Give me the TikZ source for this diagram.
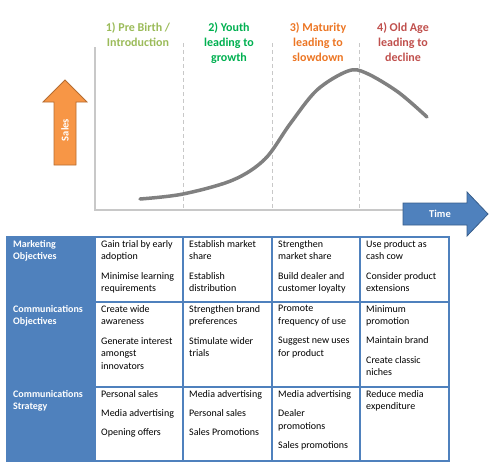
\documentclass[tikz,border=0pt]{standalone}
\usepackage{fontspec}
\setmainfont{Carlito}
\usepackage{xcolor}
\definecolor{tblue}{RGB}{79,129,189}
\definecolor{tbluedark}{RGB}{56,93,138}
\definecolor{salesorange}{RGB}{247,150,70}
\definecolor{salesedge}{RGB}{182,109,49}
\definecolor{axisgray}{RGB}{200,200,200}
\definecolor{curvegray}{RGB}{128,128,128}
\definecolor{stageone}{RGB}{155,187,89}
\definecolor{stagetwo}{RGB}{0,176,80}
\definecolor{stagethree}{RGB}{236,118,36}
\definecolor{stagefour}{RGB}{192,80,77}
\tikzset{
  stagelabel/.style={anchor=north, align=center, inner sep=0pt,
                     font=\fontsize{12}{15}\selectfont\bfseries},
  cell/.style={anchor=north west, align=left, inner sep=0pt,
               font=\fontsize{10}{12.7}\selectfont},
  rowhead/.style={cell, text=white, font=\fontsize{10}{12}\selectfont\bfseries},
  arrowtext/.style={inner sep=0pt, text=white, font=\fontsize{10.5}{12}\selectfont\bfseries},
  axis/.style={line width=1.5pt, axisgray},
  divider/.style={line width=0.9pt, axisgray, dash pattern=on 4pt off 3pt},
  curve/.style={line width=3.5pt, curvegray, line cap=round},
  grid/.style={line width=2.5pt, tblue},
}
\begin{document}
\begin{tikzpicture}[x=1pt, y=-1pt]
\useasboundingbox (0,0) rectangle (503,472);

% stage titles
\node[stagelabel, text=stageone]   (birth)    at (138,22) {1) Pre Birth /\\Introduction};
\node[stagelabel, text=stagetwo]   (youth)    at (229,22) {2) Youth\\leading to\\growth};
\node[stagelabel, text=stagethree] (maturity) at (318,22) {3) Maturity\\leading to\\slowdown};
\node[stagelabel, text=stagefour]  (oldage)   at (403,22) {4) Old Age\\leading to\\decline};

% axes and stage dividers
\coordinate (origin) at (95,210);
\coordinate (ytop) at (95,47);
\coordinate (xend) at (404,210);
\draw[axis] (ytop) -- (origin) -- (xend);
\foreach \x in {183,272,359}
  \draw[divider] (\x,43) -- (\x,210);

% sales curve
\draw[curve] plot[smooth, tension=0.55] coordinates
  {(140,199) (183,194) (233,180) (265,159) (290,124) (317,90) (348,71) (366,73) (398,92) (427,117)};

% sales arrow
\filldraw[fill=salesorange, draw=salesedge, line width=0.8pt]
  (54,165) -- (54,102) -- (43,102) -- (65,80) -- (87,102) -- (76,102) -- (76,165) -- cycle;
\node[arrowtext, rotate=90] (sales) at (65,130) {Sales};

% time arrow
\filldraw[fill=tblue, draw=tbluedark, line width=0.8pt]
  (403,203) -- (467,203) -- (467,192) -- (488,214) -- (467,236) -- (467,225) -- (403,225) -- cycle;
\node[arrowtext] (time) at (440,214) {Time};

% table
\fill[white] (95,237) rectangle (449,461);
\fill[tblue] (6,236) rectangle (95,462);
\foreach \x in {183,272,360}
  \draw[grid] (\x,237) -- (\x,461);
\foreach \y in {302,387}
  \draw[grid] (95,\y) -- (449,\y);
\draw[grid] (95,237) rectangle (449,461);

% row 1
\node[rowhead] (mkthead) at (13,240) {Marketing\\Objectives};
\node[cell] (mkt1) at (101,240) {Gain trial by early\\adoption\\[6.5pt]Minimise learning\\requirements};
\node[cell] (mkt2) at (189,240) {Establish market\\share\\[6.5pt]Establish\\distribution};
\node[cell] (mkt3) at (278,240) {Strengthen\\market share\\[6.5pt]Build dealer and\\customer loyalty};
\node[cell] (mkt4) at (366,240) {Use product as\\cash cow\\[6.5pt]Consider product\\extensions};

% row 2
\node[rowhead] (cobjhead) at (13,305) {Communications\\Objectives};
\node[cell] (cobj1) at (101,305) {Create wide\\awareness\\[6.5pt]Generate interest\\amongst\\innovators};
\node[cell] (cobj2) at (189,305) {Strengthen brand\\preferences\\[6.5pt]Stimulate wider\\trials};
\node[cell] (cobj3) at (278,305) {Promote\\frequency of use\\[6.5pt]Suggest new uses\\for product};
\node[cell] (cobj4) at (366,305) {Minimum\\promotion\\[6.5pt]Maintain brand\\[6.5pt]Create classic\\niches};

% row 3
\node[rowhead] (cstrhead) at (13,390) {Communications\\Strategy};
\node[cell] (cstr1) at (101,390) {Personal sales\\[6.5pt]Media advertising\\[6.5pt]Opening offers};
\node[cell] (cstr2) at (189,390) {Media advertising\\[6.5pt]Personal sales\\[6.5pt]Sales Promotions};
\node[cell] (cstr3) at (278,390) {Media advertising\\[6.5pt]Dealer\\promotions\\[6.5pt]Sales promotions};
\node[cell] (cstr4) at (366,390) {Reduce media\\expenditure};
\end{tikzpicture}
\end{document}
